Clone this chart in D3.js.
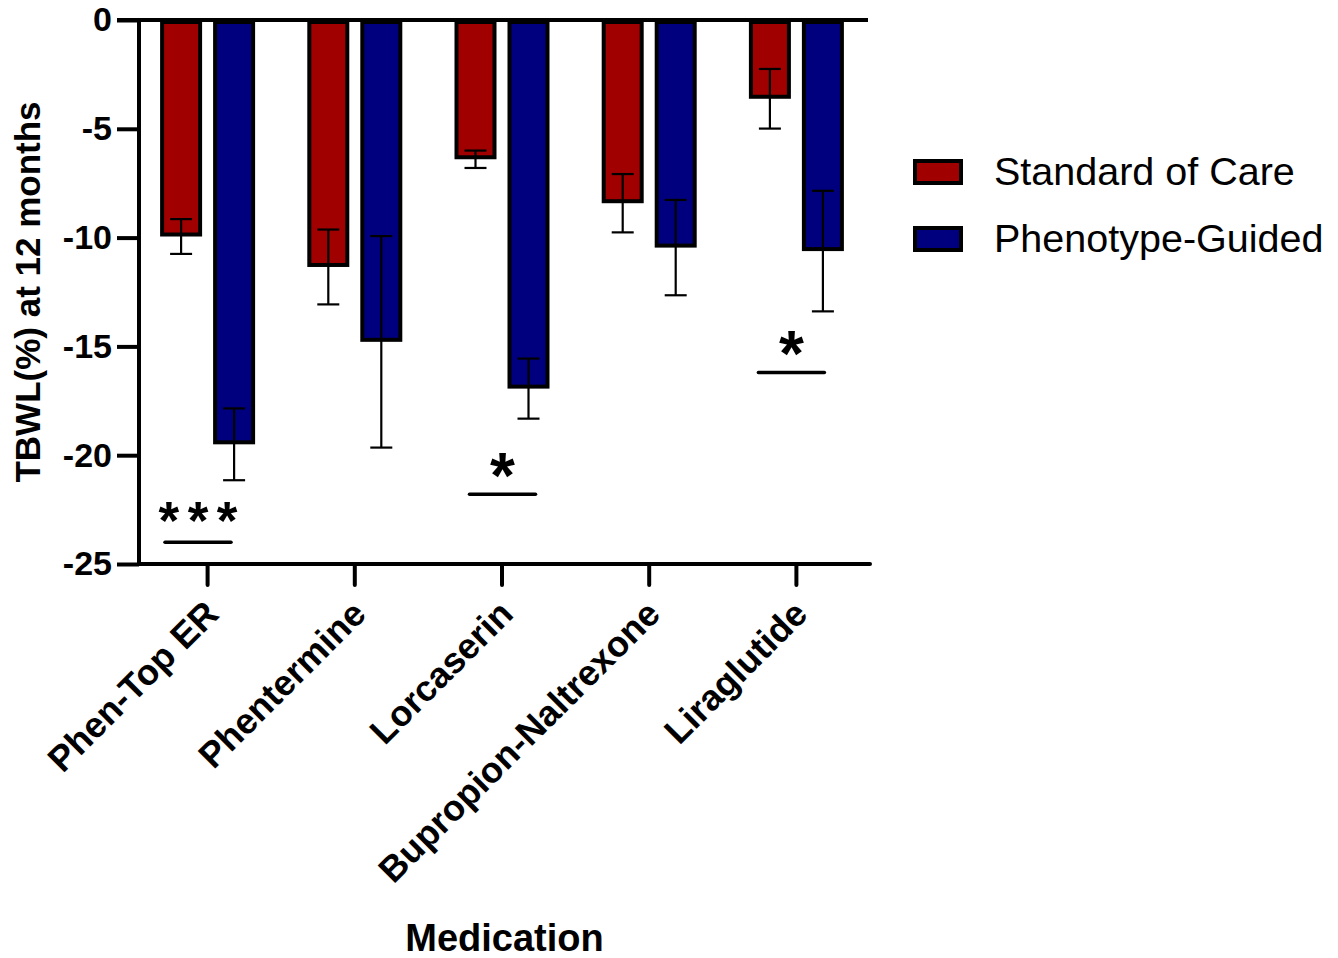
<!DOCTYPE html>
<html>
<head>
<meta charset="utf-8">
<script src="https://cdn.jsdelivr.net/npm/d3@7"></script>
<style>
  html, body { margin: 0; padding: 0; background: #fff; }
  svg { display: block; font-family: "Liberation Sans", Arial, Helvetica, sans-serif; }
</style>
</head>
<body>
<div id="chart"></div>
<script>
// TBWL at 12 months, grouped bars with SEM error bars

const medications = ['Phen-Top ER', 'Phentermine', 'Lorcaserin', 'Bupropion-Naltrexone', 'Liraglutide'];
const seriesNames = ['Standard of Care', 'Phenotype-Guided'];
const seriesColors = ['#A00000', '#00007F'];

const standardMeans = [-9.95, -11.35, -6.4, -8.42, -3.62];
const standardErrors = [0.8, 1.72, 0.4, 1.34, 1.37];
const guidedMeans = [-19.5, -14.79, -16.94, -10.46, -10.62];
const guidedErrors = [1.65, 4.86, 1.38, 2.19, 2.77];

const yTicks = [0, -5, -10, -15, -20, -25];

// significance marks: medication, level of the bar (y value), label
const sigMedications = ['Phen-Top ER', 'Lorcaserin', 'Liraglutide'];
const sigLevels = [-24.0, -21.8, -16.2];
const sigLabels = ['***', '*', '*'];

const width = 1338, height = 958;

const svg = d3.select('#chart')
    .append('svg')
    .attr('width', width)
    .attr('height', height);

const y = d3.scaleLinear().domain([-25, 0]).range([564, 20]);
const x0 = d3.scaleBand().domain(medications).range([134, 870]).padding(0);
const x1 = d3.scaleBand().domain(seriesNames).range([-47.5, 47.5]).paddingInner(11 / 53);

const axisX = 139;
const barStroke = 4;

const rows = [];
medications.forEach((m, i) => {
    rows.push({ med: m, key: seriesNames[0], value: standardMeans[i], err: standardErrors[i], color: seriesColors[0] });
    rows.push({ med: m, key: seriesNames[1], value: guidedMeans[i], err: guidedErrors[i], color: seriesColors[1] });
});

const cx = d => x0(d.med) + x0.bandwidth() / 2;

// bars
svg.append('g')
    .selectAll('rect')
    .data(rows)
    .join('rect')
    .attr('x', d => cx(d) + x1(d.key) + barStroke / 2)
    .attr('y', y(0) + barStroke / 2)
    .attr('width', x1.bandwidth() - barStroke)
    .attr('height', d => y(d.value) - y(0) - barStroke)
    .attr('fill', d => d.color)
    .attr('stroke', '#000')
    .attr('stroke-width', barStroke);

// error bars
const eb = svg.append('g')
    .attr('stroke', '#000')
    .attr('stroke-width', 2.2);

rows.forEach(d => {
    const ex = cx(d) + x1(d.key) + x1.bandwidth() / 2;
    eb.append('line')
        .attr('x1', ex).attr('x2', ex)
        .attr('y1', y(d.value + d.err)).attr('y2', y(d.value - d.err));
    [d.value + d.err, d.value - d.err].forEach(v => {
        eb.append('line')
            .attr('x1', ex - 11).attr('x2', ex + 11)
            .attr('y1', y(v)).attr('y2', y(v));
    });
});

// y axis
const yAxis = svg.append('g')
    .attr('transform', `translate(${axisX},0)`)
    .call(d3.axisLeft(y).tickValues(yTicks).tickSize(22).tickPadding(5).tickFormat(d3.format('d')));
yAxis.select('.domain').remove();
yAxis.selectAll('.tick line').attr('stroke-width', 4);
yAxis.selectAll('.tick text')
    .attr('font-size', 34)
    .attr('font-weight', 'bold')
    .attr('font-family', '"Liberation Sans", Arial, sans-serif')
    .attr('fill', '#000')
    .text(d => d === 0 ? '0' : '-' + Math.abs(d));

svg.append('line')
    .attr('x1', axisX).attr('x2', axisX)
    .attr('y1', y(0) - 2).attr('y2', y(-25) + 2)
    .attr('stroke', '#000').attr('stroke-width', 4);

// zero line across
svg.append('line')
    .attr('x1', axisX - 22).attr('x2', 868)
    .attr('y1', y(0)).attr('y2', y(0))
    .attr('stroke', '#000').attr('stroke-width', 4);

// x axis
const xAxis = svg.append('g')
    .attr('transform', `translate(0,${y(-25)})`)
    .call(d3.axisBottom(x0).tickSize(21).tickFormat(''));
xAxis.select('.domain').remove();
xAxis.selectAll('.tick line').attr('stroke-width', 4).attr('stroke-linecap', 'round');

svg.append('line')
    .attr('x1', axisX).attr('x2', x0.range()[1])
    .attr('y1', y(-25)).attr('y2', y(-25))
    .attr('stroke', '#000').attr('stroke-width', 4).attr('stroke-linecap', 'round');

// rotated category labels
svg.append('g')
    .selectAll('text')
    .data(medications)
    .join('text')
    .attr('transform', m => `translate(${x0(m) + x0.bandwidth() / 2 + 13},${y(-25) + 52}) rotate(-45)`)
    .attr('text-anchor', 'end')
    .attr('font-size', 36)
    .attr('font-weight', 'bold')
    .text(m => m);

// axis titles
svg.append('text')
    .attr('x', (axisX + 870) / 2)
    .attr('y', 951)
    .attr('text-anchor', 'middle')
    .attr('font-size', 38)
    .attr('font-weight', 'bold')
    .text('Medication');

svg.append('text')
    .attr('transform', `translate(40,${(y(0) + y(-25)) / 2}) rotate(-90)`)
    .attr('text-anchor', 'middle')
    .attr('font-size', 35)
    .attr('font-weight', 'bold')
    .text('TBWL(%) at 12 months');

// significance annotations
const sigShift = { 'Phen-Top ER': -9.6, 'Lorcaserin': 0.5, 'Liraglutide': -5 };
sigMedications.forEach((m, i) => {
    const mx = x0(m) + x0.bandwidth() / 2 + sigShift[m];
    const ly = y(sigLevels[i]);
    const half = 33;
    svg.append('line')
        .attr('x1', mx - half).attr('x2', mx + half)
        .attr('y1', ly).attr('y2', ly)
        .attr('stroke', '#000').attr('stroke-width', 3.5).attr('stroke-linecap', 'round');
    const multi = sigLabels[i].length > 1;
    const ls = multi ? 8.5 : 0;
    svg.append('text')
        .attr('x', mx + ls / 2)
        .attr('y', multi ? ly - 3 : ly + 3.5)
        .attr('text-anchor', 'middle')
        .attr('font-size', multi ? 53 : 64)
        .attr('font-weight', 'bold')
        .style('letter-spacing', ls + 'px')
        .text(sigLabels[i]);
});

// legend
const legend = svg.append('g');
seriesNames.forEach((name, i) => {
    const ly = 159 + i * 67;
    legend.append('rect')
        .attr('x', 913 + 2).attr('y', ly + 2)
        .attr('width', 46).attr('height', 22)
        .attr('fill', seriesColors[i])
        .attr('stroke', '#000').attr('stroke-width', 4);
    legend.append('text')
        .attr('x', 994)
        .attr('y', ly + 25.5)
        .attr('font-size', 39.5)
        .text(name);
});
</script>
</body>
</html>
